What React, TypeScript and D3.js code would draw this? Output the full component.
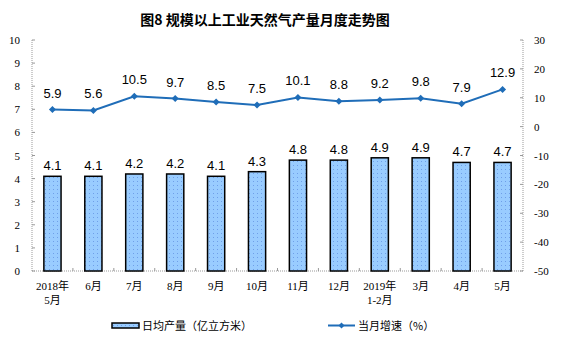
import React from "react";
import * as d3 from "d3";

const categories = ["2018年\n5月", "6月", "7月", "8月", "9月", "10月", "11月", "12月", "2019年\n1-2月", "3月", "4月", "5月"];
const output = [4.1, 4.1, 4.2, 4.2, 4.1, 4.3, 4.8, 4.8, 4.9, 4.9, 4.7, 4.7];
const growth = [5.9, 5.6, 10.5, 9.7, 8.5, 7.5, 10.1, 8.8, 9.2, 9.8, 7.9, 12.9];
const leftTicks = [0, 1, 2, 3, 4, 5, 6, 7, 8, 9, 10];
const rightTicks = [-50, -40, -30, -20, -10, 0, 10, 20, 30];
const title = "图8  规模以上工业天然气产量月度走势图";
const legendBar = "日均产量（亿立方米）";
const legendLine = "当月增速（%）";

const W = 561, H = 357;
const left = 32, right = 523, top = 40, bottom = 271;
const lineColor = "#1F6DB8";
const serif = "'Liberation Serif', 'Noto Sans CJK SC', serif";
const sans = "'Liberation Sans', Arial, sans-serif";
const cjk = "'Noto Sans CJK SC', sans-serif";

export default function App() {
  const x = d3.scaleBand<number>().domain(d3.range(categories.length)).range([left, right]).paddingInner(0).paddingOuter(0);
  const yL = d3.scaleLinear().domain([0, 10]).range([bottom, top]);
  const yR = d3.scaleLinear().domain([-50, 30]).range([bottom, top]);
  const bw = x.bandwidth() * 0.42;
  const cx = (i: number) => (x(i) as number) + x.bandwidth() / 2;
  const linePath = d3.line<number>().x((_, i) => cx(i)).y((d) => yR(d))(growth) as string;
  const diamond = (px: number, py: number, r = 3.5) => `M${px},${py - r}L${px + r},${py}L${px},${py + r}L${px - r},${py}Z`;

  return (
    <svg width={W} height={H} style={{ position: "absolute", left: 0, top: 0, background: "#fff" }}>
      <defs>
        <pattern id="dots" width="4" height="4" patternUnits="userSpaceOnUse">
          <rect width="4" height="4" fill="#99CCFF" />
          <rect x="1" y="1" width="1" height="1" fill="#6F9FE8" />
        </pattern>
      </defs>
      <text x={265} y={25} textAnchor="middle" fontFamily={cjk} fontSize={14} fontWeight="bold" fill="#000">{title}</text>

      {/* axes */}
      <line x1={left} x2={left} y1={top} y2={bottom} stroke="#999" strokeDasharray="1,1" />
      <line x1={right} x2={right} y1={top} y2={bottom} stroke="#999" strokeDasharray="1,1" />
      <line x1={left} x2={right} y1={bottom} y2={bottom} stroke="#999" strokeDasharray="1,1" />
      {leftTicks.map((t) => (
        <g key={"l" + t}>
          <line x1={left} x2={left + 3} y1={yL(t)} y2={yL(t)} stroke="#999" />
          <text x={20} y={yL(t) + 4} textAnchor="end" fontFamily={serif} fontSize={11} fill="#000">{t}</text>
        </g>
      ))}
      {rightTicks.map((t) => (
        <g key={"r" + t}>
          <line x1={right - 3} x2={right} y1={yR(t)} y2={yR(t)} stroke="#999" />
          <text x={534} y={yR(t) + 4} textAnchor="start" fontFamily={serif} fontSize={11} fill="#000">{t}</text>
        </g>
      ))}
      {d3.range(1, categories.length).map((i) => (
        <line key={"xt" + i} x1={x(i) as number} x2={x(i) as number} y1={bottom} y2={bottom - 3} stroke="#999" />
      ))}
      {categories.map((c, i) => (
        <text key={"c" + i} x={cx(i)} y={290} textAnchor="middle" fontFamily={serif} fontSize={11} fill="#000">
          {c.split("\n").map((s, j) => (
            <tspan key={j} x={cx(i)} dy={j === 0 ? 0 : 14}>{s}</tspan>
          ))}
        </text>
      ))}

      {/* bars */}
      {output.map((v, i) => (
        <g key={"b" + i}>
          <rect x={cx(i) - bw / 2} y={yL(v)} width={bw} height={bottom - yL(v)} fill="url(#dots)" stroke="#000" strokeWidth={1.5} />
          <text x={cx(i)} y={yL(v) - 6} textAnchor="middle" fontFamily={sans} fontSize={13} fill="#000">{v.toFixed(1)}</text>
        </g>
      ))}

      {/* line */}
      <path d={linePath} fill="none" stroke={lineColor} strokeWidth={2} />
      {growth.map((v, i) => (
        <g key={"p" + i}>
          <path d={diamond(cx(i), yR(v))} fill={lineColor} />
          <text x={cx(i)} y={yR(v) - 12} textAnchor="middle" fontFamily={sans} fontSize={13} fill="#000">{v.toFixed(1)}</text>
        </g>
      ))}

      {/* legend */}
      <rect x={112} y={323} width={27} height={5} fill="url(#dots)" stroke="#000" strokeWidth={1.5} />
      <text x={142} y={330} fontFamily={cjk} fontSize={11} fill="#000">{legendBar}</text>
      <line x1={328} x2={355} y1={325.5} y2={325.5} stroke={lineColor} strokeWidth={2} />
      <path d={diamond(341.5, 325.5, 3)} fill={lineColor} />
      <text x={358} y={330} fontFamily={cjk} fontSize={11} fill="#000">{legendLine}</text>
    </svg>
  );
}
